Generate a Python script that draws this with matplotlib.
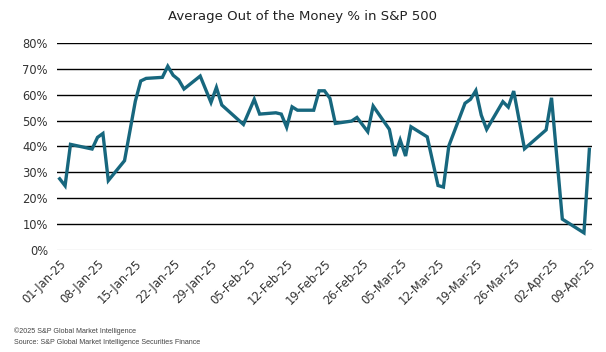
import matplotlib
matplotlib.use("Agg")
import matplotlib.pyplot as plt
import matplotlib.dates as mdates
from matplotlib.ticker import FuncFormatter
import pandas as pd

# Data (dates of the visible points, % out of the money)
dates = ["2025-01-01", "2025-01-02", "2025-01-03", "2025-01-07", "2025-01-08",
         "2025-01-09", "2025-01-10", "2025-01-13", "2025-01-14", "2025-01-15",
         "2025-01-16", "2025-01-17", "2025-01-20", "2025-01-21", "2025-01-22",
         "2025-01-23", "2025-01-24", "2025-01-27", "2025-01-29", "2025-01-30",
         "2025-01-31", "2025-02-04", "2025-02-06", "2025-02-07", "2025-02-10",
         "2025-02-11", "2025-02-12", "2025-02-13", "2025-02-14", "2025-02-17",
         "2025-02-18", "2025-02-19", "2025-02-20", "2025-02-21", "2025-02-24",
         "2025-02-25", "2025-02-27", "2025-02-28", "2025-03-03", "2025-03-04",
         "2025-03-05", "2025-03-06", "2025-03-07", "2025-03-10", "2025-03-12",
         "2025-03-13", "2025-03-14", "2025-03-17", "2025-03-18", "2025-03-19",
         "2025-03-20", "2025-03-21", "2025-03-24", "2025-03-25", "2025-03-26",
         "2025-03-28", "2025-04-01", "2025-04-02", "2025-04-04", "2025-04-08",
         "2025-04-09"]
otm_pct = [27.5, 24.8, 40.8, 39.0, 43.5,
           45.0, 26.8, 34.5, 46.0, 57.5,
           65.3, 66.3, 66.7, 71.0, 67.5,
           65.8, 62.2, 67.2, 57.0, 62.8,
           56.0, 48.5, 58.2, 52.5, 53.0,
           52.5, 47.4, 55.3, 54.0, 54.0,
           61.5, 61.5, 58.6, 48.9, 49.8,
           51.2, 45.7, 55.6, 46.6, 36.3,
           42.5, 36.3, 47.6, 43.7, 24.9,
           24.3, 40.2, 56.7, 58.2, 61.6,
           52.1, 46.6, 57.3, 55.2, 61.4,
           39.1, 46.4, 58.8, 11.9, 6.6,
           38.9]
y_ticks = [0, 10, 20, 30, 40, 50, 60, 70, 80]

x = pd.to_datetime(dates)

fig = plt.figure(figsize=(6.06, 3.52), dpi=100)
ax = fig.add_axes([0.094, 0.29, 0.883, 0.588])

# gridlines
for v in y_ticks[1:]:
    ax.axhline(v, color="black", lw=1.0, zorder=1)
ax.axhline(0, color="#d9d9d9", lw=1.0, zorder=1)

ax.plot(x, otm_pct, color="#17677e", lw=2.4, solid_joinstyle="miter", zorder=3)

start = pd.Timestamp("2025-01-01")
end = pd.Timestamp("2025-04-09")
ax.set_xlim(start - pd.Timedelta(hours=12), end + pd.Timedelta(hours=12))
ax.set_ylim(0, 80)

ax.set_xticks(pd.date_range(start, end, freq="7D"))
ax.xaxis.set_major_formatter(mdates.DateFormatter("%d-%b-%y"))
ax.set_yticks(y_ticks)
ax.yaxis.set_major_formatter(FuncFormatter(lambda v, p: f"{v:.0f}%"))

for lab in ax.get_xticklabels():
    lab.set_rotation(45)
    lab.set_ha("right")
    lab.set_rotation_mode("anchor")

ax.tick_params(axis="both", length=0, labelsize=8.3, colors="#333333")
ax.tick_params(axis="x", pad=5)
ax.tick_params(axis="y", pad=6.5)
for s in ax.spines.values():
    s.set_visible(False)

fig.text(0.5, 0.952, "Average Out of the Money % in S&P 500",
         ha="center", va="center", fontsize=9.5, color="#222222")
fig.text(0.023, 0.06, "\u00a92025 S&P Global Market Intelligence",
         fontsize=5.1, color="#444444", va="center", family="Liberation Sans")
fig.text(0.023, 0.028, "Source: S&P Global Market Intelligence Securities Finance",
         fontsize=5.1, color="#444444", va="center", family="Liberation Sans")

fig.savefig("out.png", dpi=100)
